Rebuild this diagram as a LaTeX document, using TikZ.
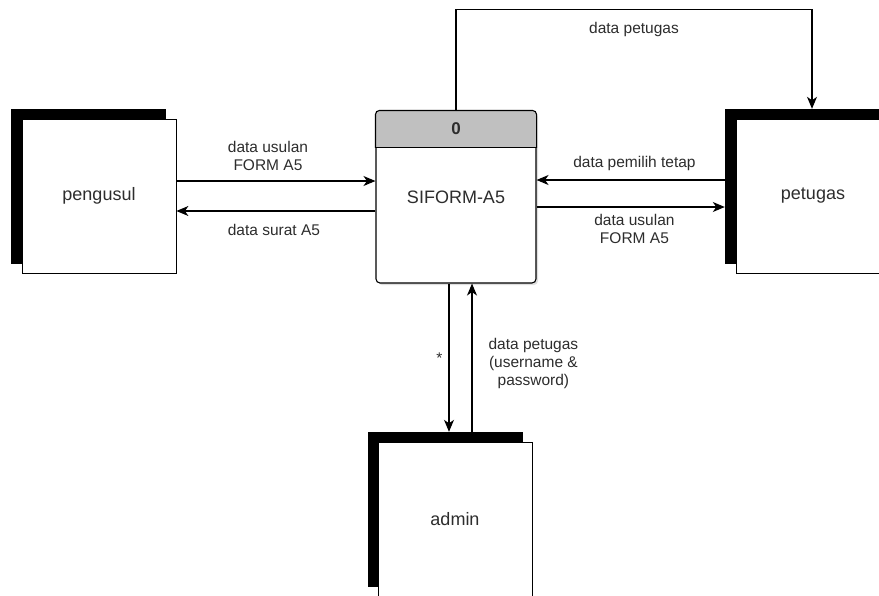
\documentclass[tikz,border=0pt]{standalone}
\usepackage{fontspec}
\setmainfont{Liberation Sans}
\usetikzlibrary{arrows.meta,shadows,calc}

\definecolor{headgray}{RGB}{192,192,192}
\definecolor{txtgray}{RGB}{45,45,45}

\tikzset{
  entbg/.style={draw, fill=black, minimum width=154pt, minimum height=154pt, inner sep=0pt},
  entity/.style={draw, line width=0.8pt, fill=white, minimum width=154pt, minimum height=154pt,
    inner sep=0pt, font=\fontsize{18}{20}\selectfont, text=txtgray},
  procbox/.style={draw, line width=1.1pt, fill=white, rounded corners=4pt, minimum width=160pt,
    minimum height=172pt, inner sep=0pt,
    drop shadow={shadow xshift=2pt, shadow yshift=-2pt, opacity=0.25}},
  flow/.style={line width=1.2pt, -{Stealth[length=12pt,width=10pt,inset=3.5pt]}},
  lbl/.style={font=\fontsize{15.5}{18}\selectfont, text=txtgray, align=center, inner sep=0pt},
}

\begin{document}
\begin{tikzpicture}[x=1pt,y=-1pt]
    \clip (0,0) rectangle (879,595);
    \fill[white] (0,0) rectangle (879,595);

    % process
    \node[procbox] (proc) at (456,197) {};
    \begin{scope}
        \clip ([shift={(-2,-2)}]proc.north west) rectangle ($(proc.north east)+(2,37)$);
        \draw[line width=1.1pt, fill=headgray, rounded corners=4pt] (proc.north west) rectangle (proc.south east);
    \end{scope}
    \draw[line width=1.1pt] ($(proc.north west)+(0,37)$) -- ($(proc.north east)+(0,37)$);
    \node[font=\bfseries\fontsize{17}{20}\selectfont, text=txtgray] (pid) at ($(proc.north)+(0,18.5)$) {0};
    \node[font=\fontsize{18}{20}\selectfont, text=txtgray] (pname) at (proc.center) {SIFORM-A5};

    % external entities
    \node[entbg] (pengusulbg) at (88,186) {};
    \node[entity] (pengusul) at ([shift={(11,10)}]pengusulbg) {pengusul};

    \node[entbg] (petugasbg) at (802,186) {};
    \node[entity] (petugas) at ([shift={(11,10)}]petugasbg) {petugas};

    \node[entbg] (adminbg) at (445,509) {};
    \node[entity] (admin) at ([shift={(10,10)}]adminbg) {admin};

    % data flows
    \coordinate (f1) at ([yshift=16pt]proc.west);
    \draw[flow] (f1 -| pengusul.east) -- node[lbl, above=9.5pt, pos=.46] {data usulan\\FORM A5} (f1);

    \coordinate (f2) at ([yshift=-14pt]proc.west);
    \draw[flow] (f2) -- node[lbl, below=13pt, pos=.51] {data surat A5} (f2 -| pengusul.east);

    \coordinate (f3) at ([yshift=17pt]proc.east);
    \draw[flow] (f3 -| petugasbg.west) -- node[lbl, above=8.5pt, pos=.48] {data pemilih tetap} (f3);

    \coordinate (f4) at ([yshift=-10pt]proc.east);
    \draw[flow] (f4) -- node[lbl, below=7pt, pos=.52] {data usulan\\FORM A5} (f4 -| petugasbg.west);

    \coordinate (f5) at ([xshift=10pt]petugasbg.north);
    \draw[flow] (proc.north) -- ++(0,-101) -| node[lbl, below=12pt, pos=.25] {data petugas} (f5);

    \coordinate (f6) at ([xshift=-7pt]proc.south);
    \draw[flow] (f6) -- node[lbl, left=6pt] {*} (f6 |- adminbg.north);

    \coordinate (f7) at ([xshift=16pt]proc.south);
    \draw[flow] (f7 |- adminbg.north) -- node[lbl, right=16pt, pos=.46] {data petugas\\(username \&\\password)} (f7);
\end{tikzpicture}
\end{document}
